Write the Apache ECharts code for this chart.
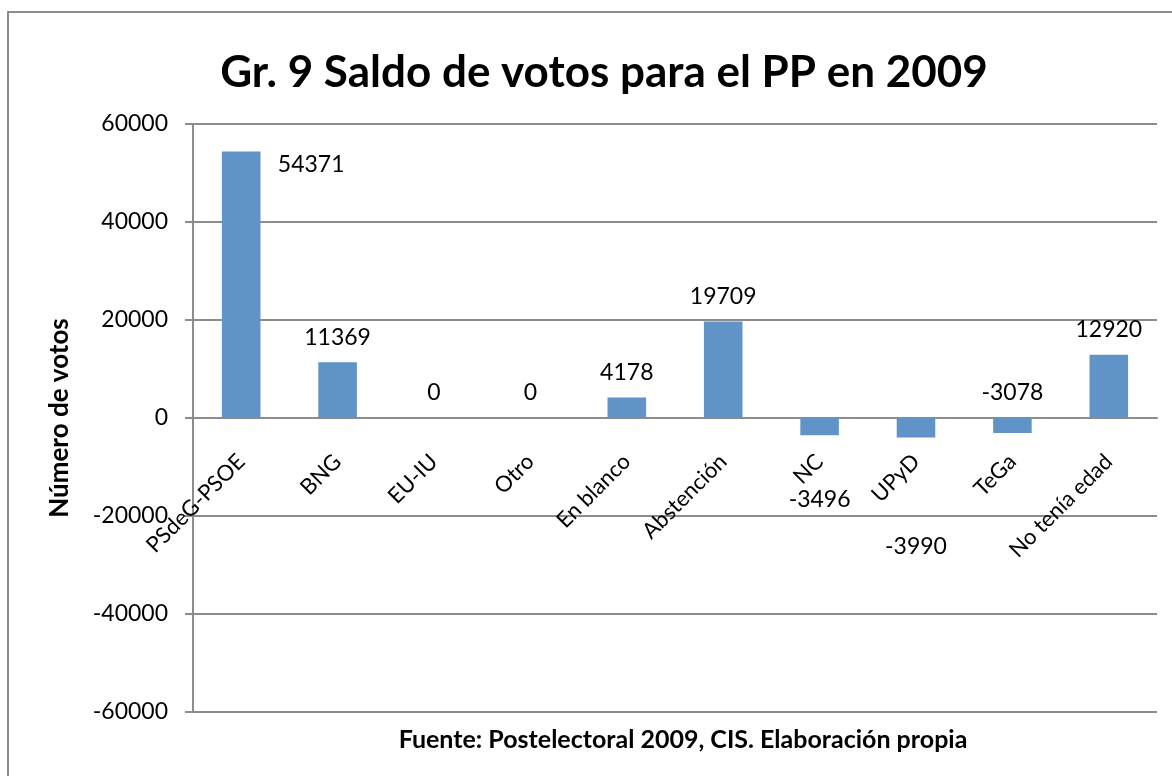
<!DOCTYPE html>
<html lang="es">
<head>
    <meta charset="UTF-8">
    <title>Gr. 9 Saldo de votos para el PP en 2009</title>
</head>
<style>
    body{
        margin: 0;
        padding: 0;
        background-color: #fff;
    }
    .main{
        width: 1172px;
        height: 776px;
    }
</style>
<body>
    <div class="main"></div>
</body>
<script src="https://cdn.jsdelivr.net/npm/echarts/dist/echarts.min.js"></script>
<script>
  // datos
  var categorias = ['PSdeG-PSOE', 'BNG', 'EU-IU', 'Otro', 'En blanco', 'Abstención', 'NC', 'UPyD', 'TeGa', 'No tenía edad'];
  var saldo = [54371, 11369, 0, 0, 4178, 19709, -3496, -3990, -3078, 12920];
  var ejeY = [-60000, -40000, -20000, 0, 20000, 40000, 60000];

  // etiquetas que Excel dejó fuera de su sitio
  var desplazar = {
    'PSdeG-PSOE': [70, 38],
    'NC': [0, 107],
    'UPyD': [0, 154]
  };

  var fuente = 'Lato';
  var gris = '#8c8c8c';

  var myChart = echarts.init(document.querySelector('.main'));

  var datos = saldo.map(function (v, i) {
    var item = { value: v };
    if (desplazar[categorias[i]]) {
      item.label = { offset: desplazar[categorias[i]] };
    }
    return item;
  });

  var option = {
    animation: false,
    title: [
      {
        text: 'Gr. 9 Saldo de votos para el PP en 2009',
        left: 599,
        top: 46,
        textAlign: 'center',
        textStyle: { fontFamily: fuente, fontSize: 44, fontWeight: 'bold', color: '#000' }
      },
      {
        text: 'Fuente: Postelectoral 2009, CIS. Elaboración propia',
        left: 678,
        top: 722,
        textAlign: 'center',
        textStyle: { fontFamily: fuente, fontSize: 25, fontWeight: 'bold', color: '#000' }
      }
    ],
    graphic: [{
      type: 'rect',
      shape: { x: 8, y: 12, width: 1200, height: 800 },
      style: { fill: 'none', stroke: gris, lineWidth: 2 },
      silent: true
    }],
    grid: { left: 193, right: 15, top: 124, bottom: 64, containLabel: false, outerBoundsMode: 'none' },
    xAxis: {
      type: 'category',
      data: categorias,
      position: 'bottom',
      offset: -294, // el eje de categorías va sobre el cero
      axisLine: { onZero: false, lineStyle: { color: gris, width: 2 } },
      axisTick: { show: false },
      axisLabel: {
        rotate: 45,
        margin: 40,
        interval: 0,
        fontFamily: fuente,
        fontSize: 22,
        color: '#000'
      }
    },
    yAxis: {
      type: 'value',
      min: -60000,
      max: 60000,
      interval: 20000,
      name: 'Número de votos',
      nameLocation: 'middle',
      nameGap: 120,
      nameTextStyle: { fontFamily: fuente, fontSize: 26, fontWeight: 'bold', color: '#000' },
      axisLine: { show: true, lineStyle: { color: gris, width: 2 } },
      axisTick: { show: true, length: 8, lineStyle: { color: gris, width: 2 } },
      splitLine: { lineStyle: { color: gris, width: 2 } },
      axisLabel: {
        margin: 25,
        fontFamily: fuente,
        fontSize: 23,
        color: '#000',
        formatter: function (v) { return ejeY.indexOf(v) >= 0 ? String(v) : ''; }
      }
    },
    series: [{
      type: 'bar',
      data: datos,
      barWidth: '40%',
      itemStyle: { color: '#6094c9' },
      label: {
        show: true,
        position: 'top',
        distance: 11,
        lineHeight: 28,
        fontFamily: fuente,
        fontSize: 23,
        color: '#000'
      }
    }]
  };

  myChart.setOption(option);
</script>
</html>
